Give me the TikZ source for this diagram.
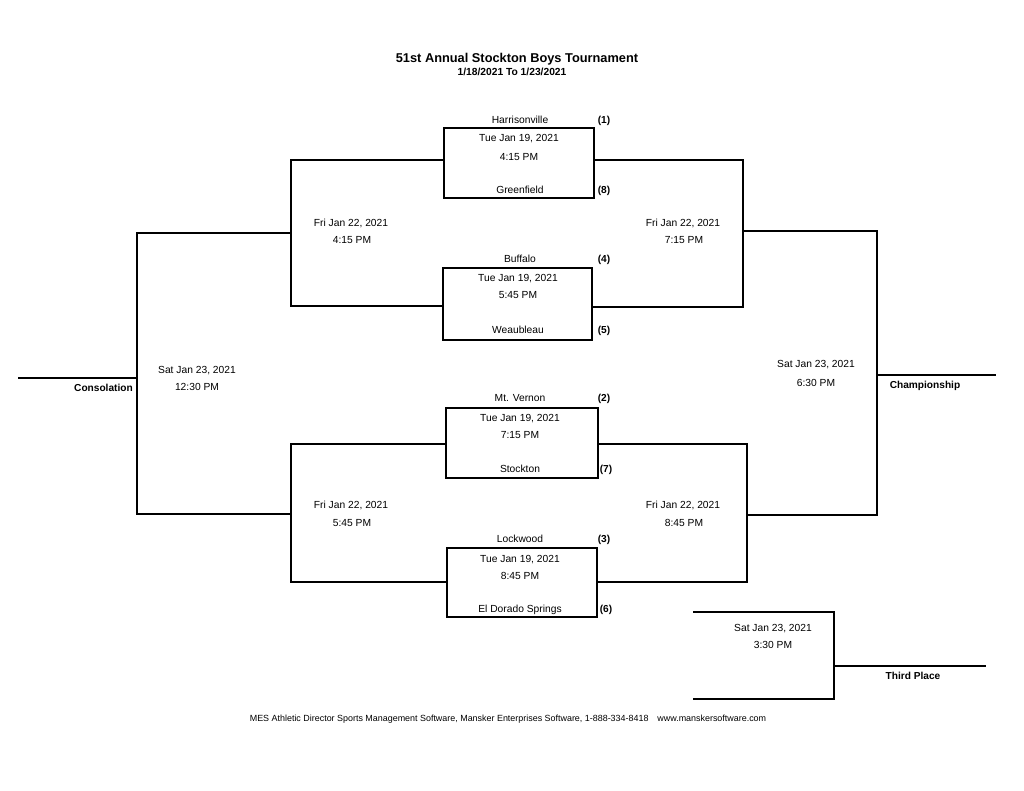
\documentclass[tikz,border=0pt]{standalone}
\usepackage{fontspec}
\setmainfont{Liberation Sans}
\begin{document}
\begin{tikzpicture}[x=0.75pt,y=-0.75pt,
  txt/.style={inner sep=0pt,anchor=base,font=\fontsize{7.7}{9}\selectfont},
  bold/.style={inner sep=0pt,anchor=base,font=\fontsize{7.6}{9}\selectfont\bfseries},
  matchbox/.style={draw,line width=1.4pt,inner sep=0pt,minimum width=112.5pt},
  bracket/.style={line width=1.4pt},
  thin/.style={line width=1pt}]
\useasboundingbox (0,0) rectangle (1024,791);
% titles
\node[inner sep=0pt,anchor=base,font=\fontsize{9.6}{11}\selectfont\bfseries] (title) at (517,62.5) {51st Annual Stockton Boys Tournament};
\node[inner sep=0pt,anchor=base,font=\fontsize{7.7}{9}\selectfont\bfseries] (subtitle) at (512,75.6) {1/18/2021 To 1/23/2021};
% match boxes
\node[matchbox,minimum height=52.5pt] (q1) at (519,163) {};
\node[matchbox,minimum width=111.75pt,minimum height=54pt] (q2) at (517.5,304) {};
\node[matchbox,minimum width=114pt,minimum height=52.5pt] (q3) at (522,443) {};
\node[matchbox,minimum height=51.75pt] (q4) at (522,582.5) {};
% box texts
\node[txt] (t1) at (520,123.7) {Harrisonville};
\node[bold] (s1) at (604,123.7) {(1)};
\node[txt] (d1) at (519,141.7) {Tue Jan 19, 2021};
\node[txt] (h1) at (519,160.7) {4:15 PM};
\node[txt] (t8) at (520,193.7) {Greenfield};
\node[bold] (s8) at (604,193.7) {(8)};
\node[txt] (t4) at (520,262.7) {Buffalo};
\node[bold] (s4) at (604,262.7) {(4)};
\node[txt] (d2) at (518,281.7) {Tue Jan 19, 2021};
\node[txt] (h2) at (518,298.7) {5:45 PM};
\node[txt] (t5) at (518,333.7) {Weaubleau};
\node[bold] (s5) at (604,333.7) {(5)};
\node[txt] (t2) at (520,401.7) {Mt. Vernon};
\node[bold] (s2) at (604,401.7) {(2)};
\node[txt] (d3) at (520,421.7) {Tue Jan 19, 2021};
\node[txt] (h3) at (520,438.7) {7:15 PM};
\node[txt] (t7) at (520,472.7) {Stockton};
\node[bold] (s7) at (606,472.7) {(7)};
\node[txt] (t3) at (520,542.7) {Lockwood};
\node[bold] (s3) at (604,542.7) {(3)};
\node[txt] (d4) at (520,562.7) {Tue Jan 19, 2021};
\node[txt] (h4) at (520,579.7) {8:45 PM};
\node[txt] (t6) at (520,612.7) {El Dorado Springs};
\node[bold] (s6) at (606,612.7) {(6)};
% bracket joints
\coordinate (a1) at (291,160); \coordinate (a2) at (291,306);
\coordinate (a3) at (291,444); \coordinate (a4) at (291,582);
\coordinate (b1) at (743,160); \coordinate (b2) at (743,307);
\coordinate (b3) at (747,444); \coordinate (b4) at (747,582);
\coordinate (sl1) at (291,233); \coordinate (sl2) at (291,514);
\coordinate (sr1) at (743,231); \coordinate (sr2) at (747,515);
\coordinate (c1) at (137,233); \coordinate (c2) at (137,514); \coordinate (cm) at (137,378);
\coordinate (ch1) at (877,231); \coordinate (ch2) at (877,515); \coordinate (chm) at (877,375);
\coordinate (cons) at (18,378); \coordinate (champ) at (996,375);
\coordinate (tp1) at (693,612); \coordinate (tp2) at (693,699);
\coordinate (tp3) at (834,612); \coordinate (tp4) at (834,699); \coordinate (tpm) at (834,666);
\coordinate (third) at (986,666);
% quarter-final connectors
\draw[bracket] (q1.west |- a1) -- (a1) -- (a2) -- (q2.west |- a2);
\draw[bracket] (q1.east |- b1) -- (b1) -- (b2) -- (q2.east |- b2);
\draw[bracket] (q3.west |- a3) -- (a3) -- (a4) -- (q4.west |- a4);
\draw[bracket] (q3.east |- b3) -- (b3) -- (b4) -- (q4.east |- b4);
% semi-final connectors
\draw[bracket] (sl1) -- (c1) -- (c2) -- (sl2);
\draw[bracket] (sr1) -- (ch1) -- (ch2) -- (sr2);
\draw[bracket] (cm) -- (cons);
\draw[thin] (chm) -- (champ);
% third place
\draw[bracket] (tp1) -- (tp3) -- (tp4) -- (tp2);
\draw[thin] (tpm) -- (third);
% date labels
\node[txt] (f1) at (351,226.7) {Fri Jan 22, 2021};
\node[txt] (f1t) at (352,243.7) {4:15 PM};
\node[txt] (f2) at (683,226.7) {Fri Jan 22, 2021};
\node[txt] (f2t) at (684,243.7) {7:15 PM};
\node[txt] (f3) at (351,508.7) {Fri Jan 22, 2021};
\node[txt] (f3t) at (352,526.7) {5:45 PM};
\node[txt] (f4) at (683,508.7) {Fri Jan 22, 2021};
\node[txt] (f4t) at (684,526.7) {8:45 PM};
\node[txt] (g1) at (197,373.7) {Sat Jan 23, 2021};
\node[txt] (g1t) at (197,390.7) {12:30 PM};
\node[txt] (g2) at (816,367.7) {Sat Jan 23, 2021};
\node[txt] (g2t) at (816,386.7) {6:30 PM};
\node[txt] (g3) at (773,631.7) {Sat Jan 23, 2021};
\node[txt] (g3t) at (773,648.7) {3:30 PM};
\node[bold,anchor=base east] (consl) at (133,391.7) {Consolation};
\node[bold] (champl) at (925,388.7) {Championship};
\node[bold] (thirdl) at (913,679.7) {Third Place};
% footer
\node[inner sep=0pt,anchor=base,font=\fontsize{6.7}{8}\selectfont] (footer) at (508,721.7) {MES Athletic Director Sports Management Software, Mansker Enterprises Software, 1-888-334-8418\quad www.manskersoftware.com};
\end{tikzpicture}
\end{document}
